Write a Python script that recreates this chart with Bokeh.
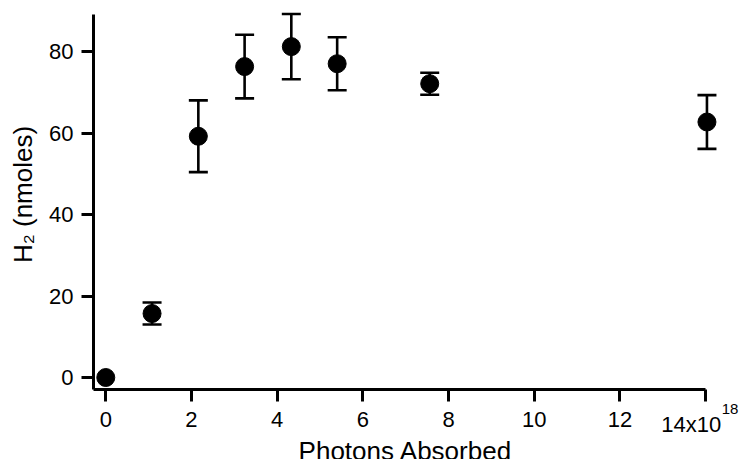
import math
from bokeh.plotting import figure
from bokeh.models import Range1d, FixedTicker, ColumnDataSource, Whisker, TeeHead, Label
from bokeh.embed import file_html
from bokeh.resources import INLINE

# Data
photons = [0, 1.08, 2.16, 3.24, 4.33, 5.40, 7.56, 14.03]   # x10^18
h2 = [0, 15.7, 59.2, 76.3, 81.2, 77.0, 72.1, 62.7]          # nmoles
h2_err = [0, 2.7, 8.8, 7.8, 8.0, 6.5, 2.7, 6.6]
x_ticks = [0, 2, 4, 6, 8, 10, 12, 14]
x_tick_labels = ["0", "2", "4", "6", "8", "10", "12", ""]
last_tick_base = "14x10"
last_tick_exp = "18"
y_ticks = [0, 20, 40, 60, 80]
x_title = "Photons Absorbed"
y_title = "H\u2082 (nmoles)"

FONT = "Liberation Sans"
# axis origin (where the two axis lines meet) and axis ends
AX_X0, AX_X1 = -0.287, 14
AX_Y0, AX_Y1 = -2.94, 89.1
# full plotting window (axes are drawn at fixed locations inside it)
XR0, XR1 = -2.457, 14.953
YR0, YR1 = -20.118, 90.06

p = figure(width=746, height=459, output_backend="svg", toolbar_location=None,
           x_range=Range1d(XR0, XR1), y_range=Range1d(YR0, YR1),
           min_border_left=0, min_border_right=0, min_border_top=10, min_border_bottom=0)
p.outline_line_color = None
p.grid.visible = False
p.background_fill_color = "white"
p.border_fill_color = "white"

lower = [v - e for v, e in zip(h2, h2_err)]
upper = [v + e for v, e in zip(h2, h2_err)]
keep = [i for i, e in enumerate(h2_err) if e > 0]
err_src = ColumnDataSource(dict(x=[photons[i] for i in keep],
                                lower=[lower[i] for i in keep],
                                upper=[upper[i] for i in keep]))
w = Whisker(source=err_src, base="x", lower="lower", upper="upper",
            line_width=2.6, line_color="black",
            lower_head=TeeHead(size=19, line_width=2.6, line_color="black"),
            upper_head=TeeHead(size=19, line_width=2.6, line_color="black"))
p.add_layout(w)

p.scatter(photons, h2, size=18, color="black")

for ax in (p.xaxis[0], p.yaxis[0]):
    ax.axis_line_width = 3
    ax.axis_line_color = "black"
    ax.major_tick_line_width = 3
    ax.major_tick_line_color = "black"
    ax.major_tick_in = 0
    ax.major_tick_out = 12
    ax.minor_tick_line_color = None
    ax.major_label_text_font = FONT
    ax.major_label_text_font_size = "22px"
    ax.major_label_text_color = "black"

xa = p.xaxis[0]
xa.ticker = FixedTicker(ticks=x_ticks)
xa.major_label_overrides = {t: l for t, l in zip(x_ticks, x_tick_labels)}
xa.bounds = (AX_X0, AX_X1)
xa.fixed_location = AX_Y0
xa.major_label_standoff = 11

ya = p.yaxis[0]
ya.ticker = FixedTicker(ticks=y_ticks)
ya.bounds = (AX_Y0, AX_Y1)
ya.fixed_location = AX_X0
ya.major_label_standoff = 8

TXT = dict(text_font=FONT, text_color="black")
# last x tick label with superscript exponent
p.add_layout(Label(x=x_ticks[-1], y=AX_Y0, x_offset=-14.5, y_offset=-23, text=last_tick_base,
                   text_font_size="22px", text_align="center", text_baseline="top", **TXT))
p.add_layout(Label(x=x_ticks[-1], y=AX_Y0, x_offset=16, y_offset=-15, text=last_tick_exp,
                   text_font_size="15px", text_align="left", text_baseline="top", **TXT))
# axis titles
p.add_layout(Label(x=(AX_X0 + AX_X1) / 2, y=AX_Y0, x_offset=6, y_offset=-62, text=x_title,
                   text_font_size="26px", text_align="center", text_baseline="alphabetic", **TXT))
p.add_layout(Label(x=AX_X0, y=AX_Y0, x_offset=-70, y_offset=195, text=y_title, angle=math.pi / 2,
                   text_font_size="26px", text_align="center", text_baseline="alphabetic", **TXT))

open("out.html", "w").write(file_html(p, INLINE))
